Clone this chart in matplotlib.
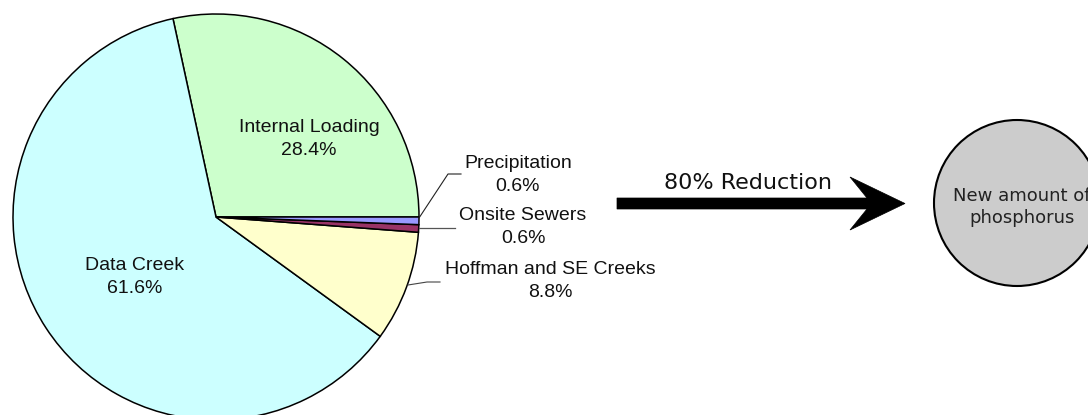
import numpy as np
import matplotlib
matplotlib.use("Agg")
import matplotlib.pyplot as plt
from matplotlib.patches import Circle, Polygon

# pie data (percent of phosphorus load)
sources = ["Internal Loading", "Data Creek", "Hoffman and SE Creeks", "Onsite Sewers", "Precipitation"]
shares = [28.4, 61.6, 8.8, 0.6, 0.6]
colors = ["#CCFFCC", "#CCFFFF", "#FFFFCC", "#993366", "#9999FF"]

W, H = 1088, 415
fig = plt.figure(figsize=(W / 100, H / 100), dpi=100)
ax = fig.add_axes([0, 0, 1, 1])

def Y(y):
    # picture rows -> axis units
    return H - y

cx, cy, r = 216, Y(217), 203
ax.pie(shares, colors=colors, startangle=0, counterclock=True,
       center=(cx, cy), radius=r, frame=True,
       wedgeprops=dict(edgecolor="black", linewidth=1.1))
ax.set_xlim(0, W)
ax.set_ylim(0, H)
ax.set_aspect("equal")
ax.axis("off")

lab_font = dict(family=["Liberation Sans", "DejaVu Sans"], fontsize=14, color="#111111",
                ha="center", va="center", linespacing=1.5)

# label positions (pixels) for each slice
label_pos = [(309, 139), (135, 277), (550, 281), (523, 227), (518, 175)]
for name, val, (lx, ly) in zip(sources, shares, label_pos):
    ax.text(lx, Y(ly), f"{name}\n{val:.1f}%", **lab_font)

# leader lines
ax.plot([419, 448, 461], [Y(218), Y(174), Y(174)], color="#222222", lw=0.8)
ax.plot([419, 455], [Y(228), Y(228)], color="#555555", lw=0.9)
ax.plot([408, 427, 440], [Y(285), Y(282), Y(282)], color="#444444", lw=0.8)

# reduction arrow
arrow = [(617, 198), (867, 198), (850, 177), (905, 203.5),
         (850, 230), (867, 209), (617, 209)]
ax.add_patch(Polygon([(x, Y(y)) for x, y in arrow], closed=True,
                     facecolor="black", edgecolor="black", lw=0.5))
ax.text(748, Y(183), "80% Reduction", fontsize=16, family="DejaVu Sans",
        ha="center", va="center", color="#111111")

# new amount circle
ax.add_patch(Circle((1017, Y(203)), 83, facecolor="#CCCCCC", edgecolor="black", lw=1.5))
ax.text(1022, Y(207), "New amount of\nphosphorus", fontsize=13, family="DejaVu Sans",
        ha="center", va="center", color="#222222", linespacing=1.3)

fig.savefig("out.png", dpi=100)
